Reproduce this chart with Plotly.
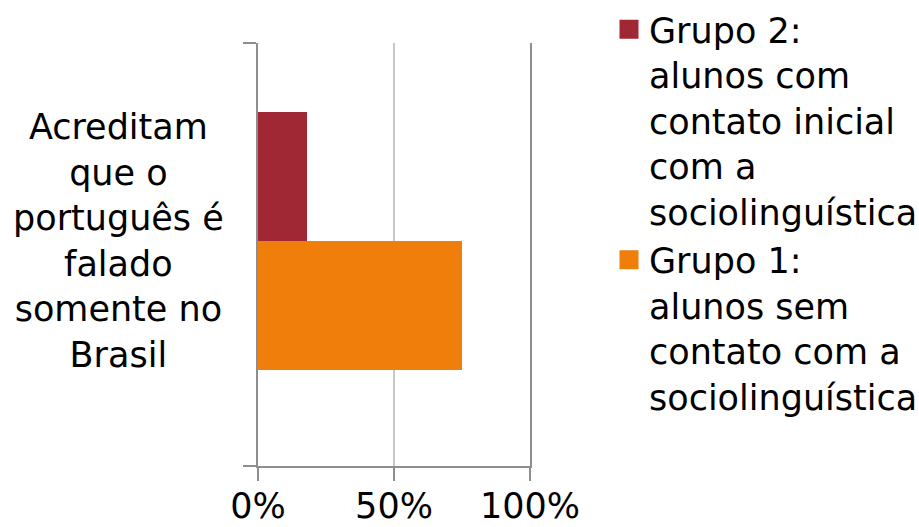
import plotly.graph_objects as go

categories = ["Acreditam<br>que o<br>português é<br>falado<br>somente no<br>Brasil"]
grupo1_values = [0.75]
grupo2_values = [0.18]
grupo1_name = "Grupo 1:<br>alunos sem<br>contato com a<br>sociolinguística"
grupo2_name = "Grupo 2:<br>alunos com<br>contato inicial<br>com a<br>sociolinguística"
grupo1_color = "#EF7F0A"
grupo2_color = "#A02734"
x_ticks = [0, 0.5, 1]
x_ticktext = ["0%", "50%", "100%"]

FONT = "DejaVu Sans"
FS = 35
pos = list(range(len(categories)))

fig = go.Figure()
fig.add_trace(go.Bar(y=pos, x=grupo1_values, orientation="h", name=grupo1_name,
                     showlegend=False, marker=dict(color=grupo1_color, line=dict(width=0))))
fig.add_trace(go.Bar(y=pos, x=grupo2_values, orientation="h", name=grupo2_name,
                     showlegend=False, marker=dict(color=grupo2_color, line=dict(width=0))))
# legend entries (square keys)
for name, col in [(grupo1_name, grupo1_color), (grupo2_name, grupo2_color)]:
    fig.add_trace(go.Scatter(x=[None], y=[None], mode="markers", name=name,
                             marker=dict(symbol="square", size=16, color=col,
                                         line=dict(width=3, color=col))))

y_lo, y_hi = -0.872, 0.767

fig.update_layout(
    width=919, height=527,
    margin=dict(l=258, r=389, t=43, b=61),
    paper_bgcolor="white", plot_bgcolor="white",
    barmode="group", bargap=0, bargroupgap=0,
    font=dict(family=FONT, size=FS, color="black"),
    showlegend=True,
    legend=dict(traceorder="reversed", valign="top", x=609/919, xref="container",
                y=1, yref="container", yanchor="top", xanchor="left",
                font=dict(family=FONT, size=FS, color="black"), maxheight=527,
                bgcolor="rgba(0,0,0,0)", tracegroupgap=0, itemwidth=30),
    xaxis=dict(range=[0, 1], tickvals=x_ticks, ticktext=x_ticktext, automargin=False,
               showgrid=True, gridcolor="#C8C8C8", gridwidth=2,
               ticks="outside", ticklen=13, tickcolor="#8E8E8E", tickwidth=1.5,
               ticklabelstandoff=-5,
               showline=True, linecolor="#8E8E8E", linewidth=1.5,
               zeroline=False, tickfont=dict(family=FONT, size=35, color="black")),
    yaxis=dict(range=[y_lo, y_hi], tickvals=[], showticklabels=False, automargin=False,
               showgrid=False, zeroline=False,
               showline=True, linecolor="#8E8E8E", linewidth=1.5, mirror=True,
               minor=dict(tickvals=[y_lo, y_hi], ticks="outside", ticklen=13,
                          tickcolor="#8E8E8E", tickwidth=1.5, showgrid=False)),
)

for p, c in zip(pos, categories):
    fig.add_annotation(text=c, x=(118 - 258) / 272, xref="paper", y=p, yref="y",
                       showarrow=False, xanchor="center", yanchor="middle", align="center",
                       font=dict(family=FONT, size=FS, color="black"))

fig.write_html("out.html")
